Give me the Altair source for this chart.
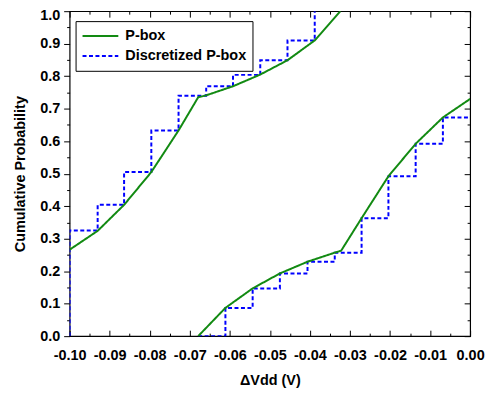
import altair as alt
import pandas as pd

# ---------------- data ----------------
series_names = ["P-box", "Discretized P-box"]
series_colors = ["#128a12", "#0000ff"]

# P-box bounds (green)
upper_curve_v = [-0.100, -0.093, -0.0864, -0.0796, -0.0728, -0.0679, -0.0659, -0.0592, -0.0524, -0.0456, -0.0388, -0.0324]
upper_curve_p = [0.266, 0.324, 0.404, 0.505, 0.633, 0.735, 0.741, 0.769, 0.805, 0.849, 0.910, 1.000]
lower_curve_v = [-0.0679, -0.0611, -0.0543, -0.0475, -0.0406, -0.0338, -0.0322, -0.0271, -0.0204, -0.0136, -0.0068, 0.000]
lower_curve_p = [0.000, 0.087, 0.147, 0.193, 0.229, 0.257, 0.263, 0.363, 0.492, 0.592, 0.673, 0.730]

# Discretized P-box (blue dashed steps)
upper_step_v = [-0.100, -0.100, -0.093, -0.0864, -0.0796, -0.0728, -0.0659, -0.0592, -0.0524, -0.0456, -0.0388]
upper_step_p = [0.000, 0.325, 0.404, 0.505, 0.633, 0.740, 0.769, 0.804, 0.849, 0.910, 1.000]
lower_step_v = [-0.0679, -0.0611, -0.0543, -0.0475, -0.0406, -0.0338, -0.0271, -0.0204, -0.0136, -0.0068, 0.000]
lower_step_p = [0.000, 0.087, 0.147, 0.193, 0.229, 0.257, 0.363, 0.492, 0.592, 0.673, 0.673]

x_ticks = [-0.10, -0.09, -0.08, -0.07, -0.06, -0.05, -0.04, -0.03, -0.02, -0.01, 0.00]
x_minor = [-0.095, -0.085, -0.075, -0.065, -0.055, -0.045, -0.035, -0.025, -0.015, -0.005]
y_ticks = [0.0, 0.1, 0.2, 0.3, 0.4, 0.5, 0.6, 0.7, 0.8, 0.9, 1.0]
y_minor = [0.05, 0.15, 0.25, 0.35, 0.45, 0.55, 0.65, 0.75, 0.85, 0.95]

x_title = "ΔVdd (V)"
y_title = "Cumulative Probability"


def frame(vs, ps, branch, series):
    return pd.DataFrame({"v": vs, "p": ps, "branch": branch, "series": series, "idx": list(range(len(vs)))})


curves = pd.concat([
    frame(upper_curve_v, upper_curve_p, "upper", series_names[0]),
    frame(lower_curve_v, lower_curve_p, "lower", series_names[0]),
], ignore_index=True)
steps = pd.concat([
    frame(upper_step_v, upper_step_p, "upper", series_names[1]),
    frame(lower_step_v, lower_step_p, "lower", series_names[1]),
], ignore_index=True)

FONT = "Liberation Sans"
FS = 14.5
xs = alt.Scale(domain=[-0.1, 0.0], nice=False, zero=False)
ys = alt.Scale(domain=[0.0, 1.0], nice=False, zero=False)

color_enc = alt.Color(
    "series:N",
    scale=alt.Scale(domain=series_names, range=series_colors),
    sort=series_names,
    legend=alt.Legend(
        title=None, orient="none", legendX=6, legendY=10, padding=6,
        strokeColor="black", fillColor="white", cornerRadius=0,
        symbolType="stroke", symbolSize=1296, symbolStrokeWidth=2,
        clipHeight=18, rowPadding=2, labelOffset=6,
        labelFont=FONT, labelFontSize=FS, labelFontWeight="bold", labelColor="black", labelLimit=400,
    ),
)
dash_enc = alt.StrokeDash(
    "series:N",
    scale=alt.Scale(domain=series_names, range=[[1, 0], [4, 2.5]]),
    sort=series_names,
    legend=alt.Legend(title=None, orient="none", legendX=6, legendY=10),
)


def tick_axis(orient, values, size, inward):
    return alt.Axis(orient=orient, values=values, tickSize=size, offset=(-size if inward else 0),
                    labels=False, domain=False, grid=False, title=None, ticks=True,
                    tickColor="black", tickWidth=1)


fmt_x = "replace(format(datum.value, '.2f'), '\u2212', '-')"
fmt_y = "replace(format(datum.value, '.1f'), '\u2212', '-')"

x_label_axis = alt.Axis(orient="bottom", values=x_ticks, ticks=False, tickSize=0, labelPadding=12,
                        domain=False, grid=False, title=x_title, titlePadding=12, labelExpr=fmt_x,
                        labelFlush=False, labelOverlap=False)
y_label_axis = alt.Axis(orient="left", values=y_ticks, ticks=True, tickSize=6, labelPadding=4,
                        domain=False, grid=False, title=y_title, titlePadding=12, labelExpr=fmt_y,
                        labelFlush=False, labelOverlap=False, tickColor="black",
                        labelOffset={"condition": {"test": "datum.value >= 0.99", "value": 4}, "value": 0})

curve_layer = alt.Chart(curves).mark_line(strokeWidth=2, clip=True).encode(
    x=alt.X("v:Q", scale=xs, axis=x_label_axis),
    y=alt.Y("p:Q", scale=ys, axis=y_label_axis),
    color=color_enc, strokeDash=dash_enc, detail="branch:N", order="idx:Q",
)
step_layer = alt.Chart(steps).mark_line(strokeWidth=2, interpolate="step-after", clip=True).encode(
    x=alt.X("v:Q", scale=xs, axis=tick_axis("bottom", x_ticks, 6, True)),
    y=alt.Y("p:Q", scale=ys, axis=tick_axis("left", y_minor, 3, False)),
    color=color_enc, strokeDash=dash_enc, detail="branch:N", order="idx:Q",
)


def carrier(xaxis, yaxis):
    return alt.Chart(curves).mark_point(opacity=0).encode(
        x=alt.X("v:Q", scale=xs, axis=xaxis),
        y=alt.Y("p:Q", scale=ys, axis=yaxis),
    )


c1 = carrier(tick_axis("bottom", x_minor, 3, True), tick_axis("right", y_ticks, 6, True))
c2 = carrier(tick_axis("top", x_ticks, 6, True), tick_axis("right", y_minor, 3, True))
c3 = carrier(tick_axis("top", x_minor, 3, True), None)

chart = alt.layer(step_layer, curve_layer, c1, c2, c3).resolve_axis(
    x="independent", y="independent"
).properties(
    width=403, height=327,
    padding={"left": 62, "top": 2, "right": 20, "bottom": 56},
    autosize=alt.AutoSizeParams(type="none"),
).configure(
    font=FONT,
).configure_axis(
    labelFont=FONT, labelFontSize=FS, labelFontWeight="bold", labelColor="black",
    titleFont=FONT, titleFontSize=FS, titleFontWeight="bold", titleColor="black",
).configure_view(
    stroke="black", strokeWidth=1.2,
)

chart.save("out.html", embed_options={"renderer": "svg", "actions": False})
